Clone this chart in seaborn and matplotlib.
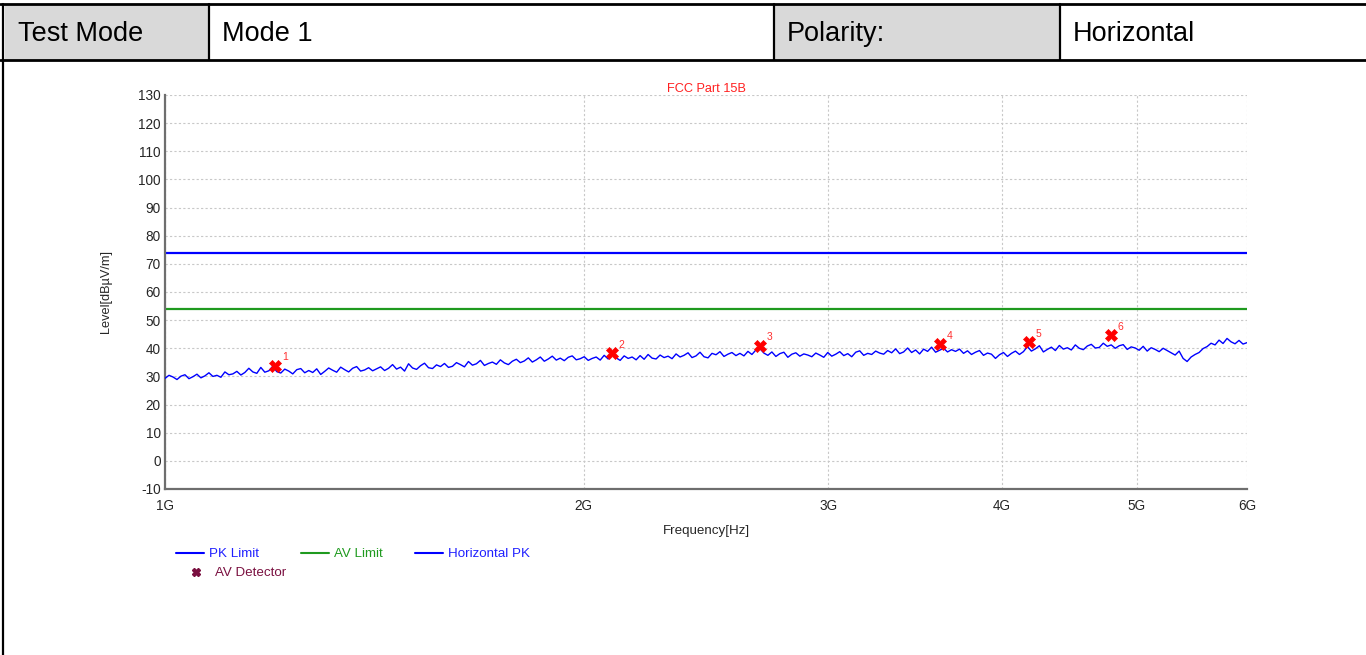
import matplotlib
matplotlib.use("Agg")
import matplotlib.pyplot as plt
from matplotlib.patches import Rectangle
from matplotlib.lines import Line2D
import seaborn as sns
import pandas as pd
import numpy as np

# header table
header_cells = ["Test Mode", "Mode 1", "Polarity:", "Horizontal"]
header_edges = [5, 209, 774, 1060, 1366]   # pixel columns
header_fill = ["#d9d9d9", "white", "#d9d9d9", "white"]

# limits (dBuV/m)
pk_limit = 74.0
av_limit = 54.0

# AV detector readings
marker_freq = [1.200e9, 2.096e9, 2.679e9, 3.609e9, 4.182e9, 4.790e9]
marker_level = [33.7, 38.3, 40.8, 41.5, 42.2, 44.7]
marker_id = ["1", "2", "3", "4", "5", "6"]

# horizontal peak sweep, 1 GHz .. 6 GHz
trace_level = [
    29.3, 30.4, 29.8, 28.9, 30.1, 30.6, 29.2, 29.9, 30.8, 29.5, 30.2, 31.3, 30.0, 30.4, 29.7, 31.6, 30.6, 30.9,
    31.8, 30.5, 31.4, 32.9, 31.6, 31.1, 33.2, 31.5, 32.0, 33.6, 31.7, 31.2, 32.6, 31.9, 30.9, 32.4, 32.8, 31.3,
    32.1, 31.4, 32.7, 30.7, 31.8, 33.0, 32.2, 31.5, 33.3, 32.4, 31.6, 32.9, 33.5, 31.9, 32.3, 33.1, 32.0, 32.7,
    33.4, 32.1, 32.9, 34.2, 32.6, 33.3, 31.9, 34.5, 33.0, 32.5, 33.8, 34.7, 33.1, 32.8, 34.1, 33.5, 34.6, 33.2,
    33.6, 34.9, 34.2, 33.4, 35.3, 34.0, 34.5, 35.7, 33.9, 34.6, 35.1, 34.3, 35.9, 34.8, 34.2, 35.4, 36.1, 34.9,
    35.5, 36.6, 35.1, 35.9, 36.9, 35.4, 36.2, 37.2, 35.8, 36.5, 35.6, 36.8, 37.3, 35.9, 36.3, 37.0, 35.7, 36.4,
    36.9, 35.8, 37.5, 36.2, 37.9, 36.6, 35.7, 37.3, 36.4, 36.9, 35.9, 37.4, 36.1, 37.8, 36.5, 36.2, 37.6, 36.7,
    37.2, 36.3, 38.0, 36.9, 37.5, 38.4, 36.7, 37.3, 38.6, 37.0, 36.6, 38.2, 37.7, 38.8, 37.1, 37.9, 38.5, 37.4,
    38.2, 37.3, 38.9, 37.8, 39.4, 39.9, 38.3, 37.5, 38.7, 37.1, 38.1, 38.6, 36.8, 37.9, 38.4, 37.2, 38.0, 37.6,
    37.0, 38.3, 37.6, 36.8, 38.5, 37.2, 37.9, 38.8, 37.4, 38.1, 37.0, 38.6, 39.1, 37.5, 38.2, 37.8, 39.0, 38.3,
    37.9, 39.2, 38.4, 39.8, 38.1, 38.7, 40.1, 38.5, 39.4, 38.0, 39.7, 38.9, 40.4, 38.6, 39.3, 40.0, 38.7, 39.5,
    38.9, 39.7, 38.2, 39.1, 37.8, 38.6, 39.2, 37.5, 38.3, 37.9, 36.4, 37.7, 38.5, 37.1, 38.2, 39.0, 37.8, 38.8,
    40.6, 39.0, 39.8, 40.9, 38.7, 39.6, 40.4, 39.2, 41.0, 39.7, 40.2, 39.4, 41.2, 40.0, 39.5, 40.8, 41.4, 40.1,
    40.3, 41.8, 40.7, 41.2, 40.0, 40.9, 41.3, 39.6, 40.5, 40.1, 39.3, 40.7, 39.0, 40.2, 39.6, 38.8, 40.0, 39.2,
    38.4, 37.6, 39.0, 36.4, 35.3, 36.9, 37.8, 38.5, 39.9, 40.6, 41.8, 41.2, 42.9, 41.7, 43.5, 42.3, 41.6, 42.8,
    41.5, 42.0,
]
trace_freq = np.geomspace(1e9, 6e9, len(trace_level))

x_ticks = [1e9, 2e9, 3e9, 4e9, 5e9, 6e9]
x_tick_labels = ["1G", "2G", "3G", "4G", "5G", "6G"]
y_ticks = list(range(-10, 131, 10))

legend_names = ["PK Limit", "AV Limit", "Horizontal PK", "AV Detector"]
legend_colors = ["#2020ff", "#1f9a1f", "#2020ff", "#7a1040"]
legend_pos = [(176, 554), (301, 554), (415, 554), (182, 573)]   # pixel anchors

sns.set_style("white")
plt.rcParams["font.family"] = ["Liberation Sans", "DejaVu Sans"]
plt.rcParams["axes.unicode_minus"] = False

W, H = 1366, 655
fig = plt.figure(figsize=(W / 100, H / 100), dpi=100)

# header table
top, bot = 5, 60
for i, txt in enumerate(header_cells):
    x0, x1 = header_edges[i], header_edges[i + 1]
    fig.add_artist(Rectangle((x0 / W, 1 - bot / H), (x1 - x0) / W, (bot - top) / H,
                             transform=fig.transFigure, facecolor=header_fill[i],
                             edgecolor="none", zorder=0))
    fig.text((x0 + 13) / W, 1 - 34 / H, txt, fontsize=19.5, va="center", ha="left", color="black")
for yy in [4, 60]:
    fig.add_artist(Line2D([0, 1], [1 - yy / H, 1 - yy / H], transform=fig.transFigure,
                          color="black", lw=2))
for xx in header_edges[1:-1]:
    fig.add_artist(Line2D([xx / W, xx / W], [1 - 4 / H, 1 - 60 / H], transform=fig.transFigure,
                          color="black", lw=1.6))
fig.add_artist(Line2D([3 / W, 3 / W], [0, 1 - 4 / H], transform=fig.transFigure, color="black", lw=1.6))

# chart
ax = fig.add_axes([165 / W, 1 - 489 / H, (1247 - 165) / W, (489 - 95) / H])
ax.set_xscale("log")

df = pd.DataFrame({"freq": trace_freq, "level": trace_level})
sns.lineplot(data=df, x="freq", y="level", ax=ax, color="#0000ff", lw=1.0,
             estimator=None, sort=False, zorder=3)
ax.axhline(pk_limit, color="#0000ff", lw=1.6, zorder=2)
ax.axhline(av_limit, color="#1f9a1f", lw=1.6, zorder=2)

mk = pd.DataFrame({"freq": marker_freq, "level": marker_level})
sns.scatterplot(data=mk, x="freq", y="level", ax=ax, marker="X", s=75, color="#ff0000",
                edgecolor="#ff0000", linewidth=0.5, zorder=5)
for f, l, t in zip(marker_freq, marker_level, marker_id):
    ax.annotate(t, (f, l), xytext=(5, 4), textcoords="offset points", color="#ff3030",
                fontsize=7.5)

ax.set_xlim(1e9, 6e9)
ax.set_ylim(-10, 130)
ax.set_xticks(x_ticks)
ax.set_xticklabels(x_tick_labels)
ax.minorticks_off()
ax.set_yticks(y_ticks)
ax.tick_params(axis="both", labelsize=9.8, length=2, color="#555555", pad=1)
ax.tick_params(axis="x", length=0, pad=7)
ax.grid(True, ls=(0, (2, 2)), color="#c8c8c8", lw=0.8)
for s in ["top", "right"]:
    ax.spines[s].set_visible(False)
for s in ["left", "bottom"]:
    ax.spines[s].set_color("#6e6e6e")
    ax.spines[s].set_linewidth(1.6)

ax.set_title("FCC Part 15B", color="#ff2020", fontsize=9.2, pad=2)
ax.set_xlabel("Frequency[Hz]", fontsize=9.6, labelpad=9)
ax.set_ylabel("Level[dBµV/m]", fontsize=9.2, labelpad=19)

# legend, one entry per anchor
handles = [
    Line2D([], [], color="#0000ff", lw=1.5),
    Line2D([], [], color="#1f9a1f", lw=1.5),
    Line2D([], [], color="#0000ff", lw=1.5),
    Line2D([], [], ls="none", marker="X", color="#7a1040", markersize=6),
]
for h, name, c, (px, py) in zip(handles, legend_names, legend_colors, legend_pos):
    leg = fig.legend([h], [name], loc="center left", bbox_to_anchor=(px / W, 1 - py / H),
                     frameon=False, fontsize=9.6, handlelength=2.1, handletextpad=0.4,
                     borderpad=0, borderaxespad=0)
    leg.get_texts()[0].set_color(c)

fig.savefig("out.png", dpi=100)
